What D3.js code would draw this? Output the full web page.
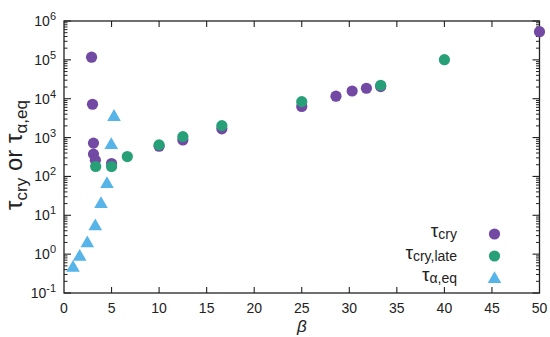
<!DOCTYPE html>
<html>
<head>
<meta charset="utf-8">
<script src="https://cdn.jsdelivr.net/npm/d3@7"></script>
<style>
body { margin: 0; background: #fff; }
text { font-family: "Liberation Sans", Arial, sans-serif; fill: #222; }
</style>
</head>
<body>
<div id="chart"></div>
<script>
// tau_cry
var cryBeta = [2.9, 3.0, 3.1, 3.1, 3.3, 5.0, 10.0, 12.5, 16.6, 25.0, 28.6, 30.3, 31.8, 33.3, 50.0];
var cryTau  = [117000, 7200, 720, 375, 260, 215, 600, 870, 1680, 6300, 11600, 15800, 18600, 20500, 530000];
// tau_cry,late
var lateBeta = [3.33, 5.0, 6.66, 10.0, 12.5, 16.6, 25.0, 33.3, 40.0];
var lateTau  = [180, 180, 325, 650, 1060, 2030, 8400, 22200, 101000];
// tau_alpha,eq
var eqBeta = [0.95, 1.65, 2.45, 3.29, 3.89, 4.52, 4.97, 5.26];
var eqTau  = [0.47, 0.91, 2.0, 5.5, 20.5, 67, 680, 3600];

var xTicks = [0, 5, 10, 15, 20, 25, 30, 35, 40, 45, 50];
var yExps = [-1, 0, 1, 2, 3, 4, 5, 6];

var W = 550, H = 337;
var margin = {top: 21, right: 10.5, bottom: 44, left: 64};
var width = W - margin.left - margin.right,
    height = H - margin.top - margin.bottom;

var svg = d3.select("#chart").append("svg")
    .attr("width", W).attr("height", H)
  .append("g")
    .attr("transform", "translate(" + margin.left + "," + margin.top + ")");

var x = d3.scaleLinear().domain([0, 50]).range([0, width]);
var y = d3.scaleLog().domain([0.1, 1e6]).range([height, 0]);

// frame
svg.append("rect").attr("width", width).attr("height", height)
   .attr("fill", "none").attr("stroke", "#222").attr("stroke-width", 1.3);

// x ticks bottom and top, inward
xTicks.forEach(function(t) {
  if (t > 0 && t < 50) {
    svg.append("line").attr("x1", x(t)).attr("x2", x(t)).attr("y1", height).attr("y2", height - 6)
       .attr("stroke", "#222").attr("stroke-width", 1.1);
    svg.append("line").attr("x1", x(t)).attr("x2", x(t)).attr("y1", 0).attr("y2", 6)
       .attr("stroke", "#222").attr("stroke-width", 1.1);
  }
  svg.append("text").attr("x", x(t)).attr("y", height + 20)
     .attr("text-anchor", "middle").style("font-size", "14px").text(t);
});

// y ticks log, major and minor on both sides
yExps.forEach(function(e) {
  var v = Math.pow(10, e);
  [0, width].forEach(function(side) {
    var dir = side === 0 ? 1 : -1;
    svg.append("line").attr("x1", side).attr("x2", side + dir * 7).attr("y1", y(v)).attr("y2", y(v))
       .attr("stroke", "#222").attr("stroke-width", 1.1);
    if (e < 6) {
      for (var m = 2; m < 10; m++) {
        svg.append("line").attr("x1", side).attr("x2", side + dir * 3.5)
           .attr("y1", y(v * m)).attr("y2", y(v * m))
           .attr("stroke", "#222").attr("stroke-width", 1);
      }
    }
  });
  var lab = svg.append("text").attr("x", -8).attr("y", y(v) + 5)
     .attr("text-anchor", "end").style("font-size", "14px");
  lab.append("tspan").text("10");
  lab.append("tspan").attr("dy", -6).style("font-size", "11px").text(e);
});

// axis labels
svg.append("text").attr("x", x(25)).attr("y", height + 39)
   .attr("text-anchor", "middle").style("font-size", "17px").style("font-style", "italic").text("β");

var yl = svg.append("text")
   .attr("transform", "translate(" + (-42) + "," + (height / 2 - 2) + ") rotate(-90)")
   .attr("text-anchor", "middle").style("font-size", "24px");
yl.append("tspan").text("τ");
yl.append("tspan").attr("dy", 5).style("font-size", "17px").text("cry");
yl.append("tspan").attr("dy", -5).text(" or τ");
yl.append("tspan").attr("dy", 5).style("font-size", "17px").text("α,eq");

var purple = "#7249a3", green = "#27a077", blue = "#56b4e9";
var tri = d3.symbol().type(d3.symbolTriangle).size(80);

function circles(bx, ty, col) {
  svg.append("g").selectAll("circle")
    .data(bx.map(function(b, i) { return [b, ty[i]]; }))
    .enter().append("circle")
    .attr("cx", function(d) { return x(d[0]); })
    .attr("cy", function(d) { return y(d[1]); })
    .attr("r", 5.6)
    .attr("fill", col);
}
circles(cryBeta, cryTau, purple);
circles(lateBeta, lateTau, green);

svg.append("g").selectAll("path")
  .data(eqBeta.map(function(b, i) { return [b, eqTau[i]]; }))
  .enter().append("path")
  .attr("d", tri)
  .attr("transform", function(d) { return "translate(" + x(d[0]) + "," + (y(d[1]) + 1) + ")"; })
  .attr("fill", blue);

// legend
var legend = [
  {main: "τ", sub: "cry", col: purple, shape: "circle"},
  {main: "τ", sub: "cry,late", col: green, shape: "circle"},
  {main: "τ", sub: "α,eq", col: blue, shape: "tri"}
];
legend.forEach(function(d, i) {
  var ly = 213 + i * 22;
  var t = svg.append("text").attr("x", 393).attr("y", ly + 3)
     .attr("text-anchor", "end").style("font-size", "19px");
  t.append("tspan").text(d.main);
  t.append("tspan").attr("dy", 2).style("font-size", "14px").text(d.sub);
  if (d.shape === "circle") {
    svg.append("circle").attr("cx", 430.5).attr("cy", ly).attr("r", 5.6).attr("fill", d.col);
  } else {
    svg.append("path").attr("d", tri).attr("transform", "translate(430.5," + (ly + 1) + ")").attr("fill", d.col);
  }
});
</script>
</body>
</html>
